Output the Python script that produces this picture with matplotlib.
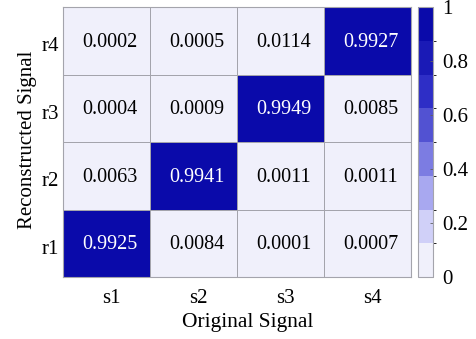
import numpy as np
import matplotlib
matplotlib.use("Agg")
import matplotlib.pyplot as plt
from matplotlib.colors import ListedColormap, BoundaryNorm

plt.rcParams["font.family"] = ["Liberation Serif", "DejaVu Serif"]

cols = ["s1", "s2", "s3", "s4"]
rows = ["r1", "r2", "r3", "r4"]
# rows bottom -> top (r1..r4), columns s1..s4
vals = np.array([
    [0.9925, 0.0084, 0.0001, 0.0007],
    [0.0063, 0.9941, 0.0011, 0.0011],
    [0.0004, 0.0009, 0.9949, 0.0085],
    [0.0002, 0.0005, 0.0114, 0.9927],
])

level_colors = ["#f0f0fb", "#d0d0f8", "#a8a8f0", "#7c7ce2",
                "#5252d2", "#2e2ec6", "#1a1ab6", "#0a0aaa"]
cmap = ListedColormap(level_colors)
norm = BoundaryNorm(np.linspace(0, 1, 9), cmap.N)

fig = plt.figure(figsize=(4.76, 3.39), dpi=100)
ax = fig.add_axes([0.1324, 0.183, 0.731, 0.796])
cax = fig.add_axes([0.878, 0.183, 0.0315, 0.796])

mesh = ax.pcolormesh(np.arange(5), np.arange(5), vals, cmap=cmap, norm=norm,
                     edgecolor="#a4a4ac", linewidth=0.6)
for i in range(4):
    for j in range(4):
        v = vals[i, j]
        ax.text(j + 0.54, i + 0.48, f"{v:.4f}", ha="center", va="center",
                fontsize=14.5, color="white" if v > 0.5 else "black")

ax.set_xlim(0, 4)
ax.set_ylim(0, 4)
ax.set_xticks(np.arange(4) + 0.56)
ax.set_xticklabels(cols, fontsize=15)
ax.set_yticks(np.arange(4) + 0.45)
ax.set_yticklabels(rows, fontsize=15)
ax.tick_params(axis="x", length=0, pad=9)
ax.tick_params(axis="y", length=0, pad=3)
ax.set_xlabel("Original Signal", fontsize=15.5, labelpad=3, x=0.53)
ax.set_ylabel("Reconstructed Signal", fontsize=15, labelpad=3, y=0.51)
for s in ax.spines.values():
    s.set_color("#a4a4ac")
    s.set_linewidth(0.8)

cb = fig.colorbar(mesh, cax=cax, ticks=[0, 0.2, 0.4, 0.6, 0.8, 1])
cb.ax.set_yticklabels(["0", "0.2", "0.4", "0.6", "0.8", "1"])
cb.ax.tick_params(direction="in", length=2, width=0.6, labelsize=15,
                  color="#606060", pad=7)
cb.outline.set_edgecolor("#a4a4ac")
cb.outline.set_linewidth(0.8)

fig.savefig("out.png", dpi=100)
